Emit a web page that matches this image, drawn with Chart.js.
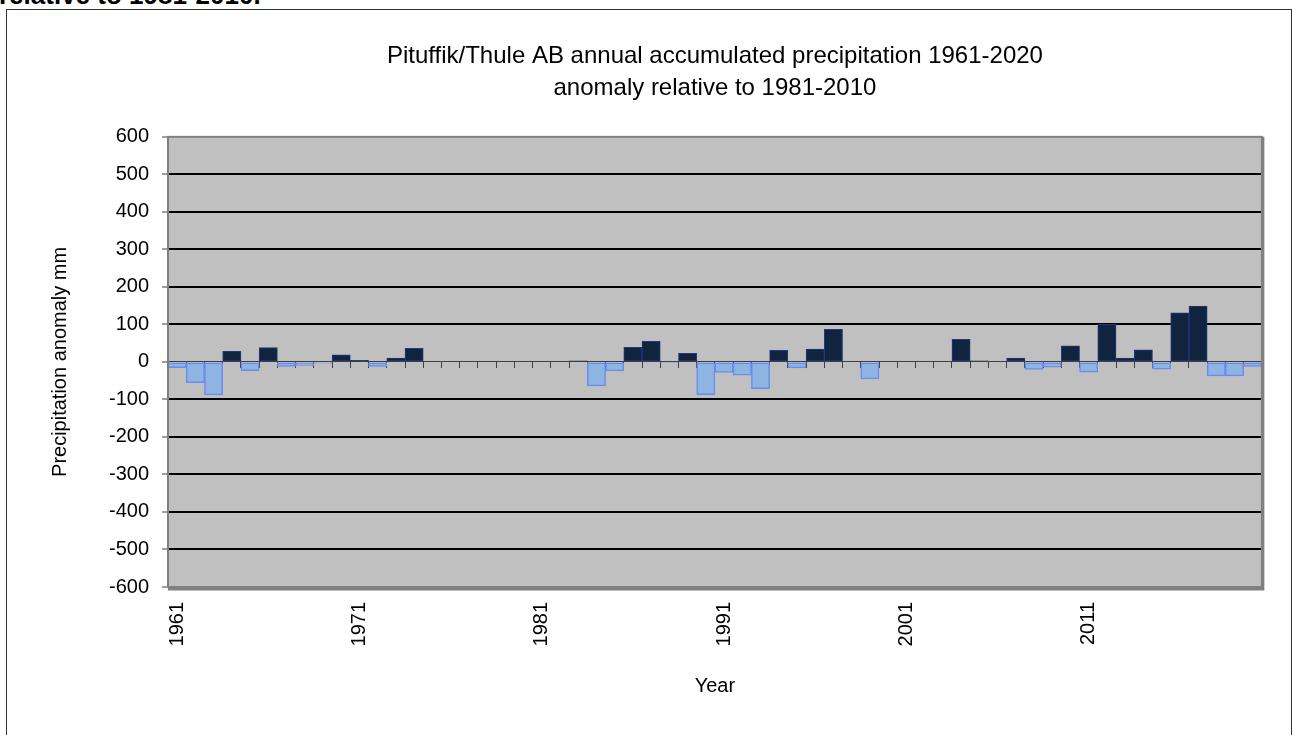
<!DOCTYPE html>
<html><head><meta charset="utf-8">
<script src="https://cdn.jsdelivr.net/npm/chart.js@4.4.1/dist/chart.umd.min.js"></script>
<style>
html,body{margin:0;padding:0;overflow:hidden;background:#fff;width:1292px;height:735px}
#frame{position:absolute;left:6px;top:9px;width:1284px;height:800px;border:1px solid #333;}
#cap{position:absolute;left:-1px;top:-18px;font:bold 26px "Liberation Sans",Arial,sans-serif;line-height:26px;white-space:nowrap;color:#000}
#wrap{position:absolute;left:0;top:0;width:1292px;height:735px}
</style></head><body>
<div id="cap">relative to 1981-2010.</div>
<div id="frame"></div>
<div id="wrap"><canvas id="c" width="1292" height="735"></canvas></div>
<script>
const years = ['1961','1962','1963','1964','1965','1966','1967','1968','1969','1970',
  '1971','1972','1973','1974','1975','1976','1977','1978','1979','1980',
  '1981','1982','1983','1984','1985','1986','1987','1988','1989','1990',
  '1991','1992','1993','1994','1995','1996','1997','1998','1999','2000',
  '2001','2002','2003','2004','2005','2006','2007','2008','2009','2010',
  '2011','2012','2013','2014','2015','2016','2017','2018','2019','2020'];
const anomalyMm = [-15,-55,-88,28,-23,38,-12,-9,-4,19,
  4,-12,10,36,null,null,null,null,null,null,
  null,null,2,-64,-24,39,55,-2,23,-87,
  -28,-35,-71,31,-16,34,87,null,-45,null,
  null,null,null,60,3,null,10,-20,-14,43,
  -27,100,10,32,-19,131,149,-37,-37,-12];
const shownYearLabels = ['1961','1971','1981','1991','2001','2011'];
const yMin = -600, yMax = 600, yStep = 100;
const titleLines = ['Pituffik/Thule AB annual accumulated precipitation 1961-2020','anomaly relative to 1981-2010'];
const xTitle = 'Year';
const yTitle = 'Precipitation anomaly mm';

const FAM = '"Liberation Sans", Arial, sans-serif';
const POS_FILL = '#10243F', POS_EDGE = '#23387F';
const NEG_FILL = '#8DB4E2', NEG_EDGE = '#6A8CEE';

const plotFrame = {
  id: 'plotFrame',
  beforeDraw(chart) {
    const {ctx, chartArea: a} = chart;
    ctx.save();
    ctx.fillStyle = '#C0C0C0';
    ctx.fillRect(a.left, a.top, a.right - a.left, a.bottom - a.top);
    ctx.restore();
  },
  afterDraw(chart) {
    const {ctx, chartArea: a} = chart;
    ctx.save();
    ctx.strokeStyle = '#808080';
    ctx.lineWidth = 2;
    ctx.strokeRect(a.left, a.top, a.right - a.left, a.bottom - a.top);
    ctx.lineWidth = 3;
    ctx.beginPath();
    ctx.moveTo(a.right + 1, a.top);
    ctx.lineTo(a.right + 1, a.bottom + 2);
    ctx.lineTo(a.left, a.bottom + 2);
    ctx.stroke();
    ctx.restore();
  }
};

new Chart(document.getElementById('c'), {
  type: 'bar',
  data: {
    labels: years,
    datasets: [{
      data: anomalyMm,
      backgroundColor: c => (c.raw >= 0 ? POS_FILL : NEG_FILL),
      borderColor: c => (c.raw >= 0 ? POS_EDGE : NEG_EDGE),
      borderWidth: c => (c.raw >= 0 ? 1 : 1.5),
      borderSkipped: false,
      barPercentage: 1,
      categoryPercentage: 1
    }]
  },
  options: {
    responsive: false,
    animation: false,
    layout: {padding: {left: 48, right: 27, top: 0, bottom: 37}},
    plugins: {
      legend: {display: false},
      tooltip: {enabled: false},
      title: {
        display: true, text: titleLines, color: '#000', fullSize: false,
        font: {family: FAM, size: 24, weight: 'normal', lineHeight: 1.33},
        padding: {top: 40, bottom: 33}
      }
    },
    scales: {
      x: {
        type: 'category', offset: true,
        grid: {display: false, drawTicks: false},
        border: {display: false},
        ticks: {
          autoSkip: false, minRotation: 90, maxRotation: 90, padding: 15,
          color: '#000', font: {family: FAM, size: 20},
          callback(v, i) { const l = years[i]; return shownYearLabels.includes(l) ? l : ''; }
        },
        title: {display: true, text: xTitle, color: '#000', font: {family: FAM, size: 20, lineHeight: 1.2}, padding: 0},
        afterFit(s) { s.height = 735 - 37 - 587; }
      },
      x2: {
        type: 'category', labels: years, position: {y: 0}, offset: true, z: 1,
        grid: {offset: true, drawOnChartArea: false, drawTicks: true, tickLength: 6, tickColor: '#404040', tickWidth: 1},
        border: {display: true, color: '#404040', width: 1},
        ticks: {display: false}
      },
      y: {
        min: yMin, max: yMax,
        ticks: {stepSize: yStep, color: '#000', font: {family: FAM, size: 20}, padding: 13},
        grid: {
          color: c => (c.tick.value === 0 || c.tick.value === yMin || c.tick.value === yMax) ? 'rgba(0,0,0,0)' : '#000',
          lineWidth: 2, drawTicks: true, tickLength: 6, tickColor: '#404040', tickWidth: 1
        },
        border: {display: false},
        title: {display: true, text: yTitle, color: '#000', font: {family: FAM, size: 20, lineHeight: 1.2}, padding: 0},
        afterFit(s) { s.width = 168 - 48; }
      }
    }
  },
  plugins: [plotFrame]
});
</script>
</body></html>
